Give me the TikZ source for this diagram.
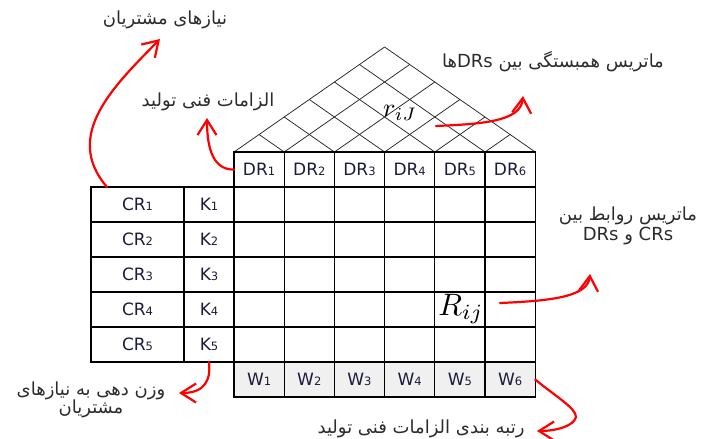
\documentclass[tikz,border=0pt]{standalone}
\usepackage{fontspec}
\setmainfont{DejaVu Sans}
\newfontfamily\arabicfont[Script=Arabic]{DejaVu Sans}
\TeXXeTstate=1
\usetikzlibrary{arrows.meta}
\definecolor{txt}{HTML}{2B2B2B}
\definecolor{wfill}{HTML}{F0F0F0}
\definecolor{celltxt}{HTML}{1C1C3A}
\newcommand\dsub[1]{{\fontsize{11.5}{11.5}\selectfont #1}}
\begin{document}
\begin{tikzpicture}[x=1pt,y=-1pt,
  cell/.style={draw, line width=1.1pt, minimum width=50.2pt, minimum height=35pt,
     inner sep=0pt, outer sep=0pt, font=\fontsize{17}{17}\selectfont, text=celltxt},
  crcell/.style={cell, minimum width=93pt},
  kcell/.style={cell, minimum width=50pt},
  wcell/.style={cell, fill=wfill},
  roofline/.style={line width=0.75pt, black!85},
  lbl/.style={font=\arabicfont\fontsize{18}{22}\selectfont, text=txt, align=center, inner sep=0pt},
  redarrow/.style={draw=red, line width=2.2pt, line cap=round,
     -{Straight Barb[length=15pt,width=19pt,line width=2.2pt]}}
]
\useasboundingbox (0,0) rectangle (705,439);

% roof
\coordinate (bl) at (234,152);
\coordinate (br) at (535.2,152);
\coordinate (apex) at (384.6,47);
\draw[roofline] (bl) -- (apex) -- (br);
\foreach \k in {1,...,5}{
  \coordinate (b\k) at ({234+50.2*\k},152);
  \draw[roofline] (b\k) -- ++({(6-\k)/6*150.6},{-(6-\k)/6*105});
  \draw[roofline] (b\k) -- ++({-\k/6*150.6},{-\k/6*105});
}

% DR row
\foreach \j in {1,...,6}{
  \node[cell] (dr\j) at ({234+50.2*(\j-0.5)},169.5) {DR\dsub{\j}};
}
% body rows
\foreach \i in {1,...,5}{
  \node[crcell] (cr\i) at (137.5,{187+35*(\i-0.5)}) {CR\dsub{\i}};
  \node[kcell] (k\i) at (209,{187+35*(\i-0.5)}) {K\dsub{\i}};
  \foreach \j in {1,...,6}{
    \node[cell] (m\i\j) at ({234+50.2*(\j-0.5)},{187+35*(\i-0.5)}) {};
  }
}
% W row
\foreach \j in {1,...,6}{
  \node[wcell] (w\j) at ({234+50.2*(\j-0.5)},379.5) {W\dsub{\j}};
}

% math labels
\node[inner sep=0pt] (rij) at (400,113) {\scalebox{2.6}{$r_{iJ}$}};
\node[inner sep=0pt] (Rij) at (461,309) {\scalebox{3.1}{$R_{ij}$}};

% text labels
\node[lbl] (t1) at (165,20) {\beginR نیازهای مشتریان\endR};
\node[lbl] (t2) at (208,102) {\beginR الزامات فنی تولید\endR};
\node[lbl] (t3) at (553,62) {\beginR ماتریس همبستگی بین \beginL DRs\endL{}ها\endR};
\node[lbl] (t4) at (628,226) {\beginR ماتریس روابط بین\endR\\[-2pt]\beginR\beginL CRs\endL{} و \beginL DRs\endL\endR};
\node[lbl] (t5) at (91,400) {\beginR وزن دهی به نیازهای\endR\\[-4pt]\beginR مشتریان\endR};
\node[lbl] (t6) at (421,428.5) {\beginR رتبه بندی الزامات فنی تولید\endR};

% arrow end points
\coordinate (a1s) at (107,187);
\coordinate (a1e) at (160,39);
\coordinate (a2e) at (207,118);
\coordinate (a3s) at (436,126);
\coordinate (a3e) at (523,96);
\coordinate (a4s) at (500,303);
\coordinate (a4e) at (590,274);
\coordinate (a5e) at (179,393);
\coordinate (a6e) at (537,431);

\draw[redarrow] (a1s) .. controls (62,135) and (115,85) .. (a1e);
\draw[redarrow] (dr1.west) .. controls (214,170) and (207,150) .. (a2e);
\draw[redarrow] (a3s) .. controls (480,124) and (521,122) .. (a3e);
\draw[redarrow] (a4s) .. controls (545,301) and (588,298) .. (a4e);
\draw[redarrow] (k5.south) .. controls (211,380) and (205,393) .. (a5e);
\draw[redarrow] (w6.east) .. controls (555,396) and (576,408) .. (576,417) .. controls (574,426) and (556,431) .. (a6e);
\end{tikzpicture}
\end{document}
